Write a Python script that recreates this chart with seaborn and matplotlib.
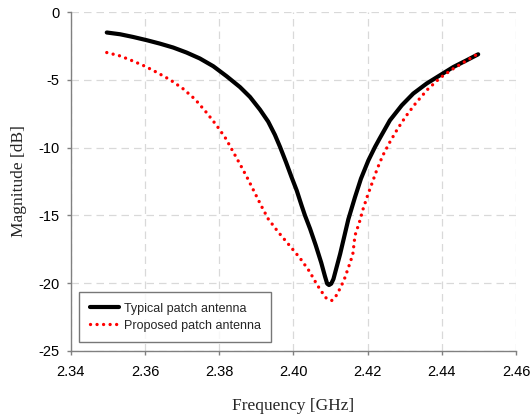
import matplotlib
matplotlib.use("Agg")
import matplotlib.pyplot as plt
import seaborn as sns

typ_freq = [2.3497, 2.3533, 2.3568, 2.3605, 2.3640, 2.3676, 2.3712, 2.3748, 2.3784,
            2.3820, 2.3856, 2.3883, 2.3910, 2.3932, 2.3950, 2.3964, 2.3980, 2.3995,
            2.4009, 2.4022, 2.4031, 2.4045, 2.4060, 2.4075, 2.4085, 2.4091, 2.4096,
            2.4102, 2.4108, 2.4126, 2.4148, 2.4166, 2.4182, 2.4202, 2.4220, 2.4233,
            2.4260, 2.4292, 2.4323, 2.4359, 2.4395, 2.4431, 2.4467, 2.4498]
typ_mag = [-1.50, -1.63, -1.83, -2.07, -2.32, -2.61, -2.98, -3.42, -3.99,
           -4.73, -5.53, -6.26, -7.20, -8.08, -9.05, -9.95, -11.07, -12.18,
           -13.17, -14.27, -15.00, -16.00, -17.20, -18.50, -19.50, -20.05, -20.15,
           -20.05, -19.70, -17.85, -15.30, -13.66, -12.30, -10.95, -9.95, -9.30,
           -7.99, -6.88, -6.01, -5.27, -4.66, -4.05, -3.55, -3.11]

prop_freq = [2.3497, 2.3533, 2.3567, 2.3600, 2.3633, 2.3667, 2.3702, 2.3735, 2.3766,
             2.3793, 2.3818, 2.3838, 2.3858, 2.3877, 2.3895, 2.3913, 2.3932, 2.3958,
             2.3988, 2.4018, 2.4043, 2.4064, 2.4076, 2.4088, 2.4103, 2.4117, 2.4136,
             2.4148, 2.4160, 2.4166, 2.4178, 2.4188, 2.4200, 2.4213, 2.4226, 2.4241,
             2.4260, 2.4280, 2.4303, 2.4330, 2.4361, 2.4395, 2.4428, 2.4461, 2.4491,
             2.4498]
prop_mag = [-2.98, -3.23, -3.60, -3.99, -4.46, -4.98, -5.64, -6.43, -7.42,
            -8.36, -9.34, -10.33, -11.32, -12.30, -13.29, -14.28, -15.26, -16.20,
            -17.18, -18.17, -19.13, -20.14, -20.64, -21.10, -21.30, -20.88, -19.82,
            -18.88, -17.90, -16.49, -15.50, -14.52, -13.53, -12.55, -11.56, -10.58,
            -9.59, -8.65, -7.69, -6.71, -5.72, -4.86, -4.22, -3.67, -3.18,
            -3.10]

x_ticks = [2.34, 2.36, 2.38, 2.40, 2.42, 2.44, 2.46]
x_tick_labels = ["2.34", "2.36", "2.38", "2.40", "2.42", "2.44", "2.46"]
y_ticks = [-25, -20, -15, -10, -5, 0]
y_tick_labels = ["-25", "-20", "-15", "-10", "-5", "0"]

sns.set_style("white")
plt.rcParams['font.family'] = ['Liberation Sans', 'DejaVu Sans']
plt.rcParams['axes.unicode_minus'] = False

fig = plt.figure(figsize=(5.31, 4.19), dpi=100)
ax = fig.add_axes([0.1333, 0.1630, 0.8385, 0.8079])

sns.lineplot(x=typ_freq, y=typ_mag, ax=ax, color="black", linewidth=3.0,
             label="Typical patch antenna", sort=False, estimator=None)
sns.lineplot(x=prop_freq, y=prop_mag, ax=ax, color="#ff0000", linewidth=2.4,
             linestyle=(0, (0.01, 1.95)),
             label="Proposed patch antenna", sort=False, estimator=None)
ax.lines[0].set_solid_capstyle("round")
ax.lines[0].set_solid_joinstyle("round")
ax.lines[1].set_dash_capstyle("round")

ax.set_xlim(2.34, 2.46)
ax.set_ylim(-25, 0)
ax.set_xticks(x_ticks)
ax.set_xticklabels(x_tick_labels)
ax.set_yticks(y_ticks)
ax.set_yticklabels(y_tick_labels)
ax.grid(True, color="#d9d9d9", linestyle=(0, (6, 4)), linewidth=0.9)
ax.set_axisbelow(True)

for s in ["top", "right"]:
    ax.spines[s].set_visible(False)
for s in ["left", "bottom"]:
    ax.spines[s].set_color("#808080")
    ax.spines[s].set_linewidth(1.0)
ax.tick_params(axis="both", direction="out", length=3, width=1, color="#808080",
               labelsize=10.5, labelcolor="black", left=True, bottom=True)
ax.tick_params(axis="x", pad=7)
ax.tick_params(axis="y", pad=5)

ax.set_xlabel("Frequency [GHz]", fontsize=12.5, family=["Liberation Serif"], labelpad=14)
ax.set_ylabel("Magnitude [dB]", fontsize=12.5, family=["Liberation Serif"], labelpad=8)

leg = ax.legend(loc="lower left", bbox_to_anchor=(0.019, 0.025), borderaxespad=0,
                fontsize=9, frameon=True, fancybox=False, handlelength=2.3,
                handletextpad=0.4, borderpad=0.85, labelspacing=0.38)
leg.get_frame().set_edgecolor("#555555")
leg.get_frame().set_linewidth(1.0)

fig.savefig("out.png", dpi=100)
